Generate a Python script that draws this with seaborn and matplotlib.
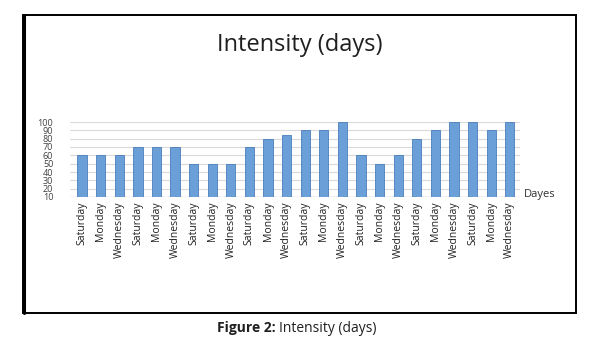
import matplotlib
matplotlib.use("Agg")
import matplotlib.pyplot as plt
import seaborn as sns
import pandas as pd
from matplotlib.patches import Rectangle

# values
days = ["Saturday", "Monday", "Wednesday"] * 8
intensity = [60, 60, 60, 70, 70, 70, 50, 50, 50, 70, 80, 85,
             90, 90, 100, 60, 50, 60, 80, 90, 100, 100, 90, 100]
yticks = [10, 20, 30, 40, 50, 60, 70, 80, 90, 100]

df = pd.DataFrame({"pos": range(len(days)), "day": days, "value": intensity})

sns.set_style("white")
plt.rcParams["font.family"] = ["Open Sans", "DejaVu Sans"]

fig = plt.figure(figsize=(5.99, 3.53), dpi=100)
W, H = 599, 353
ax = fig.add_axes([70 / W, 1 - 197 / H, 450 / W, 75 / H])

sns.barplot(data=df, x="pos", y="value", color="#6A9FD8", width=0.5,
            edgecolor="#4A7EBB", linewidth=0.6, saturation=1, ax=ax, zorder=3)

ax.set_ylim(10, 100)
ax.set_xlim(-0.65, 23.55)
ax.set_yticks(yticks)
ax.set_yticklabels([str(v) for v in yticks], fontsize=6.5, color="#404040")
ax.set_xticks(range(len(days)))
ax.set_xticklabels(days, rotation=90, fontsize=7.5, color="#202020")
ax.tick_params(axis="y", length=0, pad=12)
ax.tick_params(axis="x", length=0, pad=3)
ax.grid(axis="y", color="#d9d9d9", linewidth=0.8, zorder=0)
for s in ax.spines.values():
    s.set_visible(False)
ax.axhline(10, color="#d0d0d0", linewidth=1, zorder=1)
ax.set_xlabel("")
ax.set_ylabel("")

fig.text(524 / W, 1 - 195 / H, "Dayes", fontsize=8, color="#303030",
         ha="left", va="center")
fig.text(300 / W, 1 - 45 / H, "Intensity (days)", fontsize=17,
         color="#202020", ha="center", va="center")

# outer frame
fig.patches.append(Rectangle((23 / W, 1 - 313 / H), 553 / W, 298 / H,
                             transform=fig.transFigure, fill=False,
                             edgecolor="black", linewidth=1.4))
fig.lines.append(plt.Line2D([23.5 / W, 23.5 / W], [1 - 313 / H, 1 - 15 / H],
                            transform=fig.transFigure, color="black",
                            linewidth=2.2))

# caption below the frame
fig.text(276 / W, 1 - 328 / H, "Figure 2:", fontsize=10, fontweight="bold",
         ha="right", va="center", color="#202020")
fig.text(279 / W, 1 - 328 / H, "Intensity (days)", fontsize=10,
         ha="left", va="center", color="#202020")

fig.savefig("out.png", dpi=100)
